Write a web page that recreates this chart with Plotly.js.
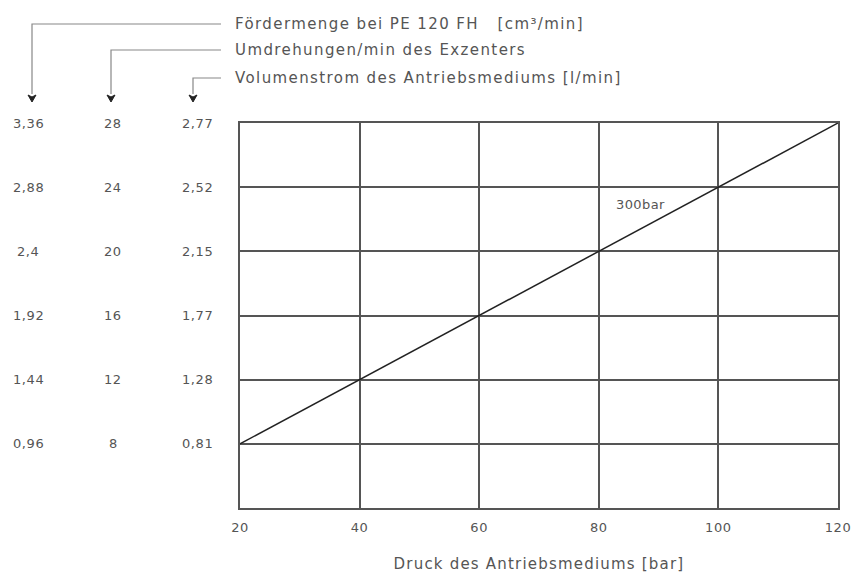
<!DOCTYPE html>
<html><head><meta charset="utf-8">
<script src="https://cdn.plot.ly/plotly-3.0.1.min.js"></script>
<style>
body{margin:0;background:#fff}
#chart .xtick text{letter-spacing:0.6px}
</style>
</head><body>
<div id="chart" style="width:854px;height:576px"></div>
<script>
// ---- data ----
const pressure = [20, 40, 60, 80, 100, 120];          // Druck des Antriebsmediums [bar]
const rpm = [8, 12, 16, 20, 24, 28];                  // Umdrehungen/min (300bar line)
const gridLevels = [8, 12, 16, 20, 24, 28];
const deliveryLabels = ['0,96', '1,44', '1,92', '2,4', '2,88', '3,36'];
const rpmLabels = ['8', '12', '16', '20', '24', '28'];
const flowLabels = ['0,81', '1,28', '1,77', '2,15', '2,52', '2,77'];
const xTicks = [20, 40, 60, 80, 100, 120];
const headers = ['Fördermenge bei PE 120 FH\u00a0\u00a0\u00a0[cm³/min]',
                 'Umdrehungen/min des Exzenters',
                 'Volumenstrom des Antriebsmediums [l/min]'];
const lineLabel = '300bar';
const xTitle = 'Druck des Antriebsmediums [bar]';

// ---- geometry helpers ----
const W = 854, H = 576, L = 240, R = 16, T = 123, B = 68;
const PW = W - L - R, PH = H - T - B;
const X = px => (px - L) / PW;
const Y = py => (H - B - py) / PH;

const FONT = 'DejaVu Sans, Arial, sans-serif';
const TXT = '#555';
const sp = (t, s) => `<span style="letter-spacing:${s}px">${t}</span>`;

const colX = [28, 113, 197];
const leadX = [32, 111, 193];
const headY = [24, 50, 78];
const colLabels = [deliveryLabels, rpmLabels, flowLabels];

const annotations = [];
const shapes = [];

colLabels.forEach((labels, c) => {
  labels.forEach((t, i) => {
    annotations.push({xref: 'paper', yref: 'y', x: X(colX[c]), y: gridLevels[i], text: sp(t, 0.6),
      showarrow: false, xanchor: 'center', yanchor: 'middle',
      font: {family: FONT, size: 13, color: TXT}});
  });
});

headers.forEach((t, i) => {
  annotations.push({xref: 'paper', yref: 'paper', x: X(233), y: Y(headY[i]), text: sp(t, 1.4),
    showarrow: false, xanchor: 'left', align: 'left', yanchor: 'middle',
    font: {family: FONT, size: 15, color: TXT}});
  shapes.push({type: 'path', xref: 'paper', yref: 'paper',
    path: `M ${X(221)} ${Y(headY[i])} L ${X(leadX[i])} ${Y(headY[i])} L ${X(leadX[i])} ${Y(94)}`,
    line: {color: '#888', width: 1.2}});
  const ax = leadX[i];
  shapes.push({type: 'path', xref: 'paper', yref: 'paper',
    path: `M ${X(ax-4)} ${Y(95)} L ${X(ax)} ${Y(102)} L ${X(ax+4)} ${Y(95)} L ${X(ax)} ${Y(97)} Z`,
    line: {color: '#222', width: 1}, fillcolor: '#222'});
});

annotations.push({xref: 'x', yref: 'y', x: 87, y: 22.9, text: sp(lineLabel, 0.4), showarrow: false,
  xanchor: 'center', yanchor: 'middle', font: {family: FONT, size: 13, color: TXT}});

const trace = {x: pressure, y: rpm, type: 'scatter', mode: 'lines',
  line: {color: '#222', width: 1.5}, hoverinfo: 'skip', showlegend: false};

const layout = {
  width: W, height: H,
  margin: {l: L, r: R, t: T, b: B},
  paper_bgcolor: '#fff', plot_bgcolor: '#fff',
  showlegend: false,
  xaxis: {range: [20, 120], tickvals: xTicks, ticktext: xTicks.map(String),
    ticks: 'outside', ticklen: 6, tickcolor: 'rgba(0,0,0,0)',
    tickfont: {family: FONT, size: 13, color: TXT},
    showgrid: true, gridcolor: '#555', gridwidth: 2,
    showline: true, mirror: true, linecolor: '#555', linewidth: 2, zeroline: false,
    title: {text: sp(xTitle, 1.2), font: {family: FONT, size: 15, color: TXT}, standoff: 25},
    automargin: false, fixedrange: true},
  yaxis: {range: [4, 28], tickvals: gridLevels, showticklabels: false, ticks: '',
    showgrid: true, gridcolor: '#555', gridwidth: 2,
    showline: true, mirror: true, linecolor: '#555', linewidth: 2, zeroline: false,
    automargin: false, fixedrange: true},
  annotations: annotations,
  shapes: shapes
};

Plotly.newPlot('chart', [trace], layout, {displayModeBar: false, staticPlot: true});
</script>
</body></html>
